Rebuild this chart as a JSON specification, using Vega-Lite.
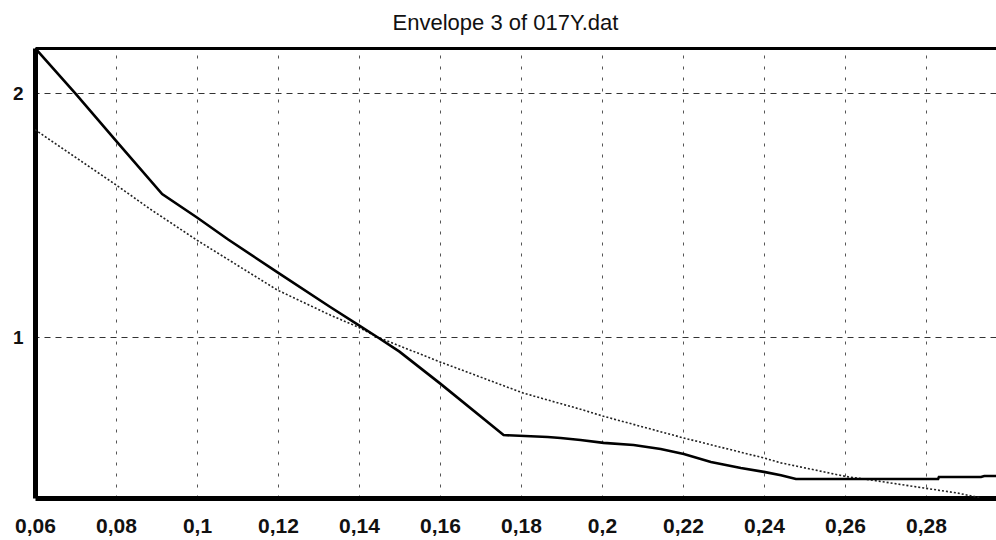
{
  "$schema": "https://vega.github.io/schema/vega-lite/v6.json",
  "width": 961,
  "height": 450,
  "autosize": "none",
  "padding": {"left": 35, "top": 48, "right": 0, "bottom": 42},
  "background": "white",
  "config": {
    "locale": {"number": {"decimal": ",", "thousands": ".", "grouping": [3], "currency": ["", " €"]}},
    "view": {"stroke": null},
    "font": "Liberation Sans"
  },
  "title": {
    "text": "Envelope 3 of 017Y.dat",
    "fontSize": 22,
    "fontWeight": "normal",
    "font": "Liberation Sans",
    "color": "#111",
    "anchor": "middle",
    "dx": -10,
    "offset": 13
  },
  "datasets": {
    "envelope": [
      {"x": 0.06, "y": 2.185},
      {"x": 0.0699, "y": 2.0},
      {"x": 0.0805, "y": 1.795},
      {"x": 0.0914, "y": 1.586},
      {"x": 0.1, "y": 1.49},
      {"x": 0.1077, "y": 1.40},
      {"x": 0.1198, "y": 1.266},
      {"x": 0.1329, "y": 1.123},
      {"x": 0.1399, "y": 1.049},
      {"x": 0.1445, "y": 1.0},
      {"x": 0.150, "y": 0.94},
      {"x": 0.160, "y": 0.81},
      {"x": 0.1757, "y": 0.598},
      {"x": 0.1866, "y": 0.59},
      {"x": 0.1898, "y": 0.586},
      {"x": 0.1947, "y": 0.578},
      {"x": 0.2004, "y": 0.566},
      {"x": 0.2078, "y": 0.557},
      {"x": 0.2145, "y": 0.541},
      {"x": 0.2202, "y": 0.52},
      {"x": 0.2269, "y": 0.488},
      {"x": 0.2343, "y": 0.463},
      {"x": 0.24, "y": 0.447},
      {"x": 0.2442, "y": 0.433},
      {"x": 0.2479, "y": 0.418},
      {"x": 0.283, "y": 0.418},
      {"x": 0.2832, "y": 0.426},
      {"x": 0.2936, "y": 0.426},
      {"x": 0.2944, "y": 0.43},
      {"x": 0.2973, "y": 0.43}
    ],
    "reference": [
      {"x": 0.06, "y": 1.85},
      {"x": 0.0805, "y": 1.618},
      {"x": 0.0884, "y": 1.525},
      {"x": 0.1, "y": 1.397},
      {"x": 0.1198, "y": 1.193},
      {"x": 0.1329, "y": 1.09},
      {"x": 0.1399, "y": 1.04},
      {"x": 0.1445, "y": 1.0},
      {"x": 0.160, "y": 0.898},
      {"x": 0.1806, "y": 0.77},
      {"x": 0.1947, "y": 0.704},
      {"x": 0.2004, "y": 0.675},
      {"x": 0.2202, "y": 0.586},
      {"x": 0.24, "y": 0.504},
      {"x": 0.2442, "y": 0.484},
      {"x": 0.2603, "y": 0.428},
      {"x": 0.2664, "y": 0.414},
      {"x": 0.2795, "y": 0.381},
      {"x": 0.2879, "y": 0.36},
      {"x": 0.2936, "y": 0.34}
    ]
  },
  "resolve": {"axis": {"x": "independent", "y": "independent"}},
  "layer": [
    {
      "data": {"name": "reference"},
      "mark": {"type": "line", "color": "#222", "strokeWidth": 1.6, "strokeDash": [2, 2], "clip": true},
      "encoding": {
        "x": {
          "field": "x", "type": "quantitative",
          "scale": {"domain": [0.06, 0.2973], "nice": false, "zero": false},
          "axis": {
            "orient": "top", "labels": false, "ticks": false, "title": null,
            "domainColor": "#000", "domainWidth": 3,
            "values": [0.08, 0.1, 0.12, 0.14, 0.16, 0.18, 0.2, 0.22, 0.24, 0.26, 0.28],
            "grid": true, "gridColor": "#555", "gridDash": [3, 8], "gridWidth": 1, "gridOpacity": 1
          }
        },
        "y": {
          "field": "y", "type": "quantitative",
          "scale": {"domain": [0.34, 2.185], "nice": false, "zero": false},
          "axis": {
            "orient": "right", "labels": false, "ticks": false, "title": null, "domain": false,
            "values": [1, 2],
            "grid": true, "gridColor": "#333", "gridDash": [6, 5], "gridWidth": 1.2, "gridOpacity": 1
          }
        }
      }
    },
    {
      "data": {"name": "envelope"},
      "mark": {"type": "line", "color": "#000", "strokeWidth": 2.6, "clip": true},
      "encoding": {
        "x": {
          "field": "x", "type": "quantitative",
          "scale": {"domain": [0.06, 0.2973], "nice": false, "zero": false},
          "axis": {
            "orient": "bottom", "title": null, "grid": false,
            "values": [0.06, 0.08, 0.1, 0.12, 0.14, 0.16, 0.18, 0.2, 0.22, 0.24, 0.26, 0.28],
            "format": ".2~f",
            "domainColor": "#000", "domainWidth": 5,
            "ticks": false, "labelPadding": 17,
            "labelFont": "Liberation Sans", "labelFontSize": 21, "labelFontWeight": "bold", "labelColor": "#111",
            "labelFlush": false, "labelOverlap": false
          }
        },
        "y": {
          "field": "y", "type": "quantitative",
          "scale": {"domain": [0.34, 2.185], "nice": false, "zero": false},
          "axis": {
            "orient": "left", "title": null, "grid": false,
            "values": [1, 2], "format": "d",
            "domainColor": "#000", "domainWidth": 5,
            "ticks": false, "labelPadding": 12,
            "labelFont": "Liberation Sans", "labelFontSize": 19, "labelFontWeight": "bold", "labelColor": "#111"
          }
        }
      }
    }
  ]
}
